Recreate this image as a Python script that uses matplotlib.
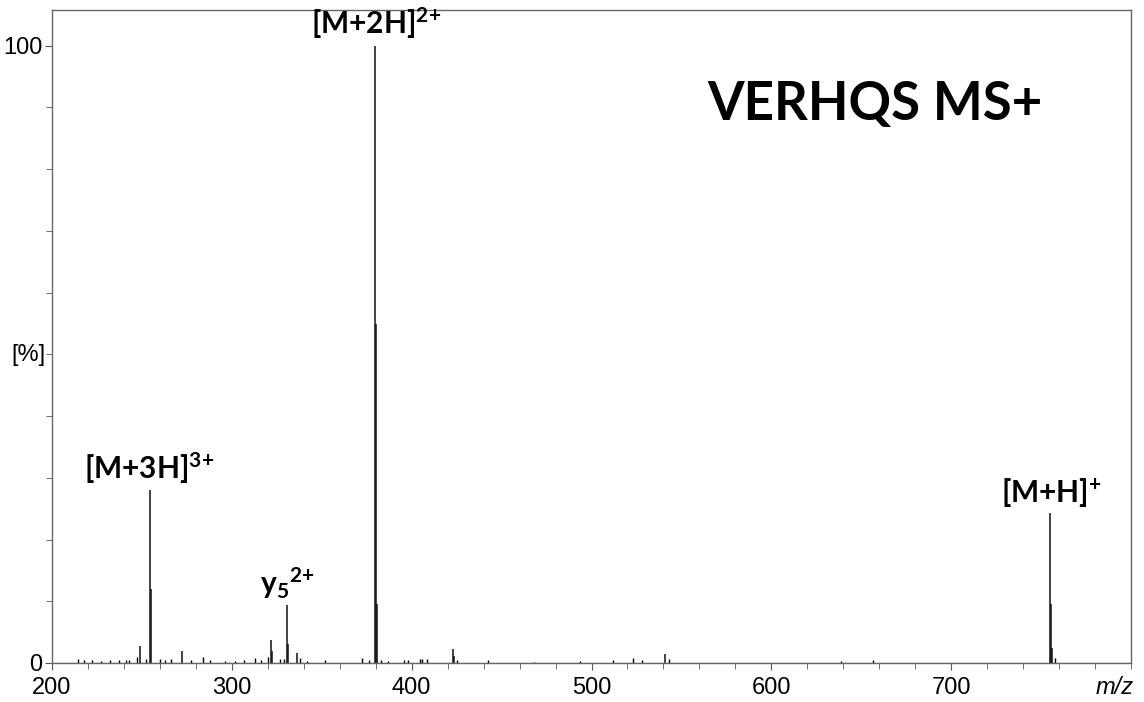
import matplotlib
matplotlib.use('Agg')
import matplotlib.pyplot as plt
from matplotlib.ticker import MultipleLocator

plt.rcParams['font.family'] = ['Liberation Sans', 'DejaVu Sans']
plt.rcParams['mathtext.fontset'] = 'custom'
plt.rcParams['mathtext.rm'] = 'Lato:bold'
plt.rcParams['mathtext.it'] = 'Lato:bold'
plt.rcParams['mathtext.bf'] = 'Lato:bold'

# main peaks (m/z, relative intensity %)
peak_mz = [254.5, 254.9, 321.8, 322.2, 330.7, 331.2, 379.6, 380.1, 380.6,
           755.0, 755.5, 756.0, 249.0, 272.0, 336.0, 423.0, 423.5, 541.0]
peak_int = [28.0, 12.0, 3.8, 2.0, 9.4, 3.0, 100.0, 55.0, 9.5,
            24.3, 9.5, 2.5, 2.8, 1.9, 1.6, 2.3, 1.2, 1.5]

# low-level noise peaks
noise_mz = [214.5, 218, 222, 227, 232, 237, 241, 243, 247, 252, 260, 263, 266,
            277, 284, 288, 296, 302, 307, 313, 316, 320, 327, 329, 338, 342,
            352, 372.5, 376, 383, 387, 396, 398, 404.7, 406, 408.5, 425,
            442.5, 468, 493.7, 512, 523, 528, 543, 639, 656.6, 758]
noise_int = [0.7, 0.4, 0.5, 0.3, 0.4, 0.4, 0.5, 0.4, 0.9, 0.6, 0.7, 0.5, 0.6,
             0.5, 1.0, 0.4, 0.3, 0.3, 0.5, 0.8, 0.4, 0.9, 0.6, 0.7, 0.8, 0.3,
             0.4, 0.8, 0.5, 0.4, 0.3, 0.5, 0.4, 0.6, 0.7, 0.6, 0.5,
             0.5, 0.2, 0.3, 0.4, 0.8, 0.4, 0.6, 0.3, 0.5, 0.8]

# annotations: text, x, y
labels = ['[M+3H]$^{3{+}}$', 'y$_5$$^{2{+}}$', '[M+2H]$^{2{+}}$', '[M+H]$^{{+}}$']
label_x = [254, 331, 380, 756]
label_y = [28.6, 10.0, 100.8, 24.8]

title = 'VERHQS MS+'

fig = plt.figure(figsize=(11.44, 7.02), dpi=100)
ax = fig.add_axes([0.0455, 0.0556, 0.9431, 0.9302])

ax.plot([200, 800], [0, 0], color='k', lw=0.8)
ax.vlines(noise_mz, 0, noise_int, color='k', lw=1.0)
ax.vlines(peak_mz, 0, peak_int, color='#111111', lw=1.1)

for t, x, y in zip(labels, label_x, label_y):
    ax.text(x, y, t, ha='center', va='bottom', fontsize=21.5,
            family='Lato', fontweight='bold')
ax.text(657.7, 90.5, title, ha='center', va='center', fontsize=38,
        family='Lato', fontweight='bold')

ax.set_xlim(200, 800)
ax.set_ylim(0, 105.8)
ax.set_xticks([200, 300, 400, 500, 600, 700])
ax.xaxis.set_minor_locator(MultipleLocator(20))
ax.set_yticks([0, 100])
ax.yaxis.set_minor_locator(MultipleLocator(10))
ax.tick_params(which='both', direction='out', labelsize=17, color='#555555')
ax.tick_params(which='major', length=5)
ax.tick_params(which='minor', length=4)
ax.tick_params(axis='x', pad=5)
ax.tick_params(axis='y', pad=2)
for s in ax.spines.values():
    s.set_color('#666666')
    s.set_linewidth(1.0)

fig.text(0.991, 0.02, 'm/z', ha='right', va='center', fontsize=17, style='italic')
fig.text(0.025, 0.494, '[%]', ha='center', va='center', fontsize=17)

fig.savefig('out.png', dpi=100)
